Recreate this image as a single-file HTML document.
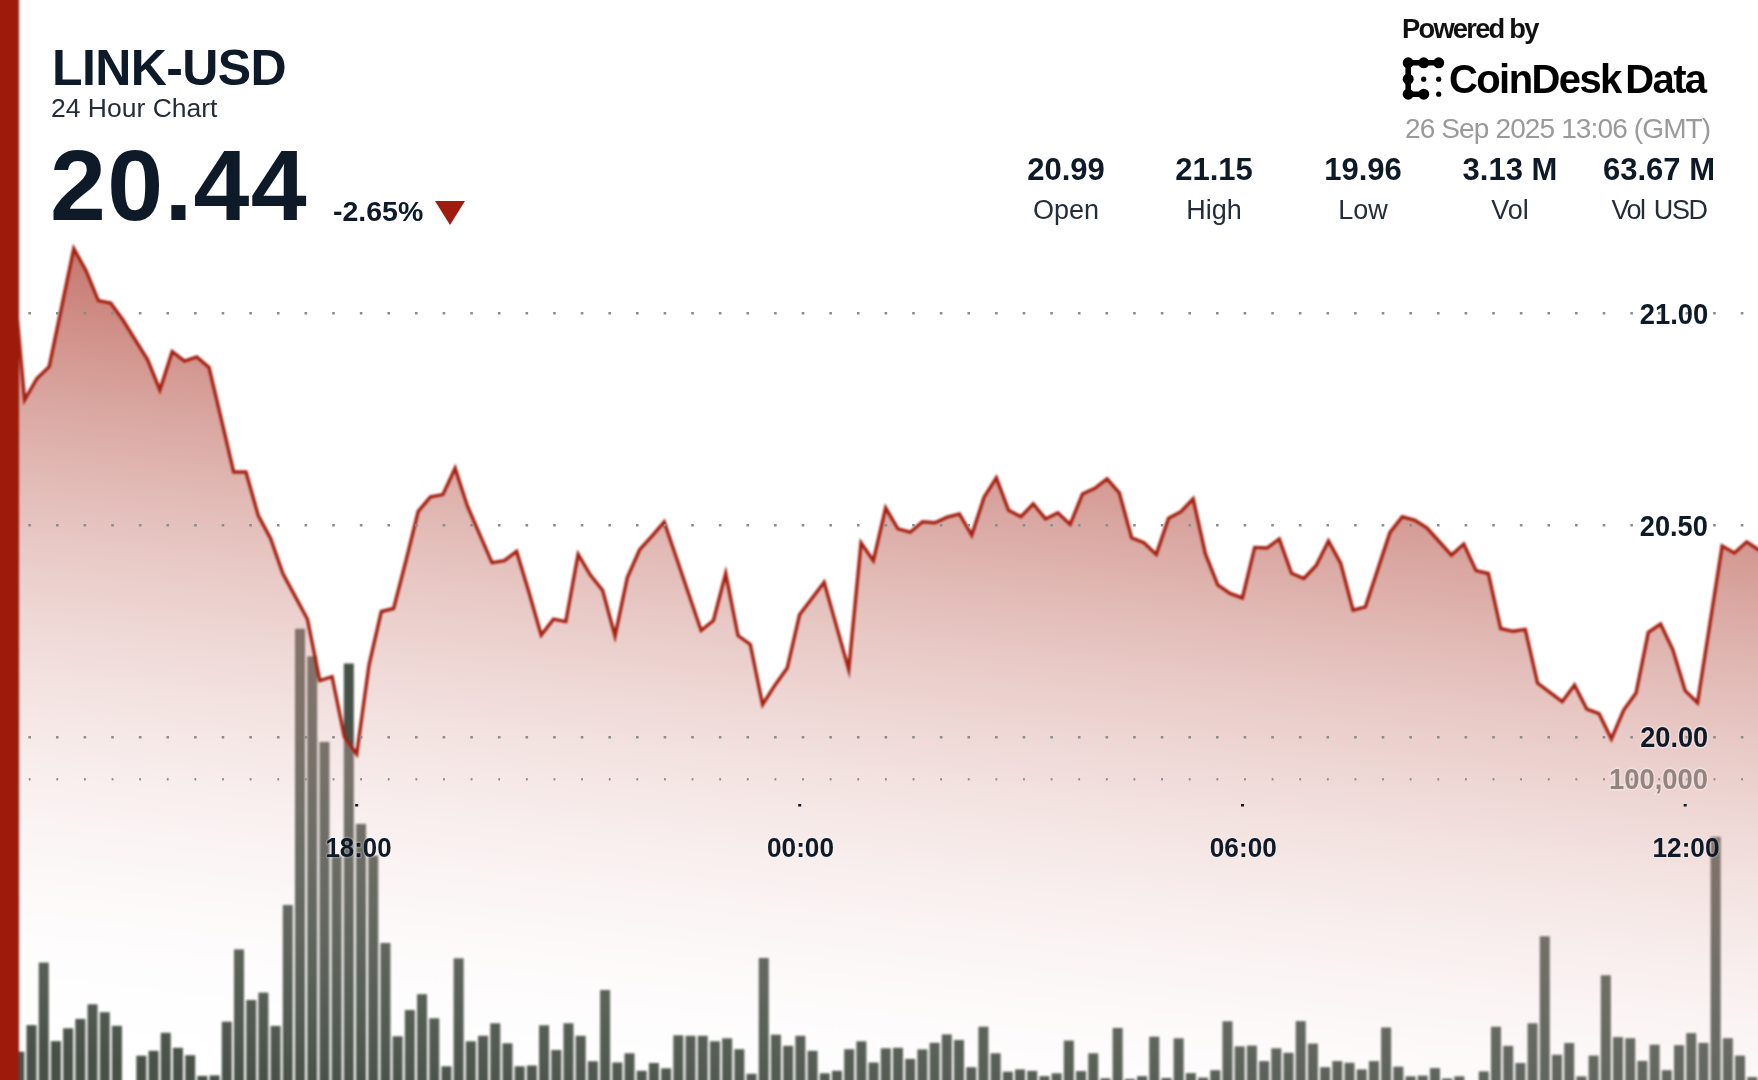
<!DOCTYPE html>
<html><head><meta charset="utf-8">
<style>
html,body{margin:0;padding:0;}
body{width:1758px;height:1080px;overflow:hidden;background:#fff;position:relative;font-family:"Liberation Sans",sans-serif;color:#0e1a28;}
.t{position:absolute;white-space:nowrap;line-height:1;}
#wrap{position:absolute;left:-16px;top:-16px;width:1790px;height:1112px;background:#fff;filter:blur(0.8px);}
#txt{position:absolute;left:0;top:0;width:1758px;height:1080px;will-change:transform;}
#lab{position:absolute;left:0;top:0;}
#inner{position:absolute;left:16px;top:16px;width:1758px;height:1080px;}
#chart{position:absolute;left:0;top:0;}
#redbar{position:absolute;left:-16px;top:-16px;width:34.5px;height:1112px;background:#9e1a0b;}
.title{left:52px;top:43px;font-size:50px;letter-spacing:-0.6px;font-weight:bold;}
.sub{left:51px;top:95px;font-size:26.5px;color:#252d38;}
.price{left:50px;top:135px;font-size:100.5px;letter-spacing:1.3px;font-weight:bold;}
.chg{left:333px;top:196.5px;font-size:28.5px;font-weight:bold;}
.pow{left:1402px;top:14.5px;font-size:27.3px;font-weight:bold;color:#111;letter-spacing:-1.75px;}
.brand{left:1449px;top:59px;font-size:40px;font-weight:bold;color:#000;letter-spacing:-1.6px;word-spacing:-5px;}
.date{left:1405px;top:114.5px;font-size:28px;color:#9a9a9a;letter-spacing:-0.87px;}
.sv{top:154px;font-size:31px;font-weight:bold;width:148px;text-align:center;}
.sl{top:196.5px;font-size:27px;color:#252d38;width:148px;text-align:center;}
</style></head><body>
<div id="wrap"><div id="inner">
<svg id="chart" width="1776" height="1096" viewBox="0 0 1776 1096" style="overflow:visible">
<defs>
<linearGradient id="g" gradientUnits="userSpaceOnUse" x1="879" y1="101" x2="758" y2="1138">
<stop offset="0" stop-color="#9e1a0b" stop-opacity="1"/>
<stop offset="1" stop-color="#ffffff" stop-opacity="0"/>
</linearGradient>
<filter id="lb" color-interpolation-filters="sRGB" x="-5%" y="-5%" width="110%" height="110%"><feGaussianBlur stdDeviation="0.45"/></filter>
</defs>
<g fill="#485148">
<rect x="14.32" y="1051.7" width="10" height="46.3"/>
<rect x="26.52" y="1025.1" width="10" height="72.9"/>
<rect x="38.73" y="962.6" width="10" height="135.4"/>
<rect x="50.93" y="1041.1" width="10" height="56.9"/>
<rect x="63.13" y="1028.3" width="10" height="69.7"/>
<rect x="75.34" y="1018.9" width="10" height="79.1"/>
<rect x="87.54" y="1004.3" width="10" height="93.7"/>
<rect x="99.75" y="1012.2" width="10" height="85.8"/>
<rect x="111.95" y="1025.8" width="10" height="72.2"/>
<rect x="136.36" y="1055.7" width="10" height="42.3"/>
<rect x="148.56" y="1050.8" width="10" height="47.2"/>
<rect x="160.76" y="1032.8" width="10" height="65.2"/>
<rect x="172.97" y="1047.8" width="10" height="50.2"/>
<rect x="185.17" y="1055.2" width="10" height="42.8"/>
<rect x="197.38" y="1075.9" width="10" height="22.1"/>
<rect x="209.58" y="1075.4" width="10" height="22.6"/>
<rect x="221.78" y="1021.7" width="10" height="76.3"/>
<rect x="233.99" y="949.4" width="10" height="148.6"/>
<rect x="246.19" y="1000" width="10" height="98"/>
<rect x="258.39" y="992.6" width="10" height="105.4"/>
<rect x="270.6" y="1025.9" width="10" height="72.1"/>
<rect x="282.8" y="905" width="10" height="193"/>
<rect x="295.01" y="628.8" width="10" height="469.2"/>
<rect x="307.21" y="656.3" width="10" height="441.7"/>
<rect x="319.41" y="741.9" width="10" height="356.1"/>
<rect x="331.62" y="855.6" width="10" height="242.4"/>
<rect x="343.82" y="663.5" width="10" height="434.5"/>
<rect x="356.02" y="823.9" width="10" height="274.1"/>
<rect x="368.23" y="855.6" width="10" height="242.4"/>
<rect x="380.43" y="943" width="10" height="155"/>
<rect x="392.63" y="1036.3" width="10" height="61.7"/>
<rect x="404.84" y="1010" width="10" height="88"/>
<rect x="417.04" y="994.2" width="10" height="103.8"/>
<rect x="429.25" y="1018.3" width="10" height="79.7"/>
<rect x="441.45" y="1066.3" width="10" height="31.7"/>
<rect x="453.65" y="958.3" width="10" height="139.7"/>
<rect x="465.86" y="1041.3" width="10" height="56.7"/>
<rect x="478.06" y="1035.8" width="10" height="62.2"/>
<rect x="490.26" y="1023.3" width="10" height="74.7"/>
<rect x="502.47" y="1043.3" width="10" height="54.7"/>
<rect x="514.67" y="1066.3" width="10" height="31.7"/>
<rect x="526.88" y="1065.5" width="10" height="32.5"/>
<rect x="539.08" y="1025.3" width="10" height="72.7"/>
<rect x="551.28" y="1050" width="10" height="48"/>
<rect x="563.49" y="1023.3" width="10" height="74.7"/>
<rect x="575.69" y="1035.8" width="10" height="62.2"/>
<rect x="587.89" y="1061.3" width="10" height="36.7"/>
<rect x="600.1" y="990" width="10" height="108"/>
<rect x="612.3" y="1062.5" width="10" height="35.5"/>
<rect x="624.5" y="1053.3" width="10" height="44.7"/>
<rect x="636.71" y="1070.8" width="10" height="27.2"/>
<rect x="648.91" y="1063" width="10" height="35"/>
<rect x="661.12" y="1068.3" width="10" height="29.7"/>
<rect x="673.32" y="1035.3" width="10" height="62.7"/>
<rect x="685.52" y="1035.8" width="10" height="62.2"/>
<rect x="697.73" y="1035.8" width="10" height="62.2"/>
<rect x="709.93" y="1041.3" width="10" height="56.7"/>
<rect x="722.13" y="1038.3" width="10" height="59.7"/>
<rect x="734.34" y="1049.2" width="10" height="48.8"/>
<rect x="746.54" y="1073.8" width="10" height="24.2"/>
<rect x="758.75" y="958" width="10" height="140"/>
<rect x="770.95" y="1034.7" width="10" height="63.3"/>
<rect x="783.15" y="1045.8" width="10" height="52.2"/>
<rect x="795.36" y="1035.8" width="10" height="62.2"/>
<rect x="807.56" y="1050.8" width="10" height="47.2"/>
<rect x="819.76" y="1073.3" width="10" height="24.7"/>
<rect x="831.97" y="1070.8" width="10" height="27.2"/>
<rect x="844.17" y="1049.2" width="10" height="48.8"/>
<rect x="856.38" y="1041.3" width="10" height="56.7"/>
<rect x="868.58" y="1062.5" width="10" height="35.5"/>
<rect x="880.78" y="1048.3" width="10" height="49.7"/>
<rect x="892.99" y="1047.8" width="10" height="50.2"/>
<rect x="905.19" y="1058.9" width="10" height="39.1"/>
<rect x="917.39" y="1049.4" width="10" height="48.6"/>
<rect x="929.6" y="1042.8" width="10" height="55.2"/>
<rect x="941.8" y="1034.4" width="10" height="63.6"/>
<rect x="954" y="1040" width="10" height="58"/>
<rect x="966.21" y="1067.2" width="10" height="30.8"/>
<rect x="978.41" y="1026.7" width="10" height="71.3"/>
<rect x="990.62" y="1053.3" width="10" height="44.7"/>
<rect x="1002.82" y="1071.7" width="10" height="26.3"/>
<rect x="1015.02" y="1069.4" width="10" height="28.6"/>
<rect x="1027.23" y="1070.9" width="10" height="27.1"/>
<rect x="1039.43" y="1076.1" width="10" height="21.9"/>
<rect x="1051.63" y="1073.3" width="10" height="24.7"/>
<rect x="1063.84" y="1040.6" width="10" height="57.4"/>
<rect x="1076.04" y="1071.1" width="10" height="26.9"/>
<rect x="1088.25" y="1053.3" width="10" height="44.7"/>
<rect x="1100.45" y="1078.3" width="10" height="19.7"/>
<rect x="1112.65" y="1028" width="10" height="70"/>
<rect x="1124.86" y="1078.9" width="10" height="19.1"/>
<rect x="1137.06" y="1076.1" width="10" height="21.9"/>
<rect x="1149.26" y="1036.7" width="10" height="61.3"/>
<rect x="1161.47" y="1078" width="10" height="20"/>
<rect x="1173.67" y="1038.3" width="10" height="59.7"/>
<rect x="1185.88" y="1073.1" width="10" height="24.9"/>
<rect x="1198.08" y="1077.6" width="10" height="20.4"/>
<rect x="1210.28" y="1070.2" width="10" height="27.8"/>
<rect x="1222.49" y="1021.3" width="10" height="76.7"/>
<rect x="1234.69" y="1046.4" width="10" height="51.6"/>
<rect x="1246.89" y="1045.6" width="10" height="52.4"/>
<rect x="1259.1" y="1061.1" width="10" height="36.9"/>
<rect x="1271.3" y="1048.3" width="10" height="49.7"/>
<rect x="1283.5" y="1052.8" width="10" height="45.2"/>
<rect x="1295.71" y="1021.1" width="10" height="76.9"/>
<rect x="1307.91" y="1043.6" width="10" height="54.4"/>
<rect x="1320.12" y="1067.2" width="10" height="30.8"/>
<rect x="1332.32" y="1061.1" width="10" height="36.9"/>
<rect x="1344.52" y="1062.8" width="10" height="35.2"/>
<rect x="1356.73" y="1069.4" width="10" height="28.6"/>
<rect x="1368.93" y="1061.1" width="10" height="36.9"/>
<rect x="1381.13" y="1027.5" width="10" height="70.5"/>
<rect x="1393.34" y="1066.7" width="10" height="31.3"/>
<rect x="1405.54" y="1076.3" width="10" height="21.7"/>
<rect x="1417.75" y="1075.6" width="10" height="22.4"/>
<rect x="1429.95" y="1068.1" width="10" height="29.9"/>
<rect x="1442.15" y="1078.5" width="10" height="19.5"/>
<rect x="1454.36" y="1076.3" width="10" height="21.7"/>
<rect x="1478.76" y="1071.4" width="10" height="26.6"/>
<rect x="1490.97" y="1026.7" width="10" height="71.3"/>
<rect x="1503.17" y="1045.9" width="10" height="52.1"/>
<rect x="1515.38" y="1063" width="10" height="35"/>
<rect x="1527.58" y="1023.3" width="10" height="74.7"/>
<rect x="1539.78" y="936.3" width="10" height="161.7"/>
<rect x="1551.99" y="1054.8" width="10" height="43.2"/>
<rect x="1564.19" y="1043" width="10" height="55"/>
<rect x="1576.39" y="1076.4" width="10" height="21.6"/>
<rect x="1588.6" y="1055.6" width="10" height="42.4"/>
<rect x="1600.8" y="975.3" width="10" height="122.7"/>
<rect x="1613" y="1037.1" width="10" height="60.9"/>
<rect x="1625.21" y="1038.2" width="10" height="59.8"/>
<rect x="1637.41" y="1060.9" width="10" height="37.1"/>
<rect x="1649.62" y="1044.7" width="10" height="53.3"/>
<rect x="1661.82" y="1070.2" width="10" height="27.8"/>
<rect x="1674.02" y="1045.2" width="10" height="52.8"/>
<rect x="1686.23" y="1033.1" width="10" height="64.9"/>
<rect x="1698.43" y="1042.9" width="10" height="55.1"/>
<rect x="1710.63" y="836.9" width="10" height="261.1"/>
<rect x="1722.84" y="1038.2" width="10" height="59.8"/>
<rect x="1735.04" y="1055.6" width="10" height="42.4"/>
<rect x="1747.25" y="1077.1" width="10" height="20.9"/>
</g>
<path d="M-0.03 124 L12.27 262 L24.57 400 L36.87 378.5 L49.17 366.7 L61.47 307.6 L73.78 248.5 L86.08 270.7 L98.38 300.6 L110.68 303 L122.98 320 L135.28 339.8 L147.58 359.6 L159.88 390 L172.18 351.5 L184.48 361.2 L196.79 357 L209.09 367.5 L221.39 419.3 L233.69 472 L245.99 472 L258.29 515.6 L270.59 538.5 L282.89 573.5 L295.19 596.4 L307.49 619.3 L319.79 680.5 L332.1 676.6 L344.4 736.9 L356.7 754 L369 665 L381.3 611.5 L393.6 608.5 L405.9 561 L418.2 511.3 L430.5 496.9 L442.81 494.6 L455.11 468.2 L467.41 506 L479.71 534.4 L492.01 562.7 L504.31 560.6 L516.61 551.4 L528.91 592 L541.21 635 L553.51 619.2 L565.81 621.6 L578.12 554.2 L590.42 575 L602.72 590.5 L615.02 635.9 L627.32 577.6 L639.62 549.7 L651.92 536.1 L664.22 521.8 L676.52 558 L688.83 594.3 L701.13 630.5 L713.43 620.5 L725.73 573.3 L738.03 635.6 L750.33 644.4 L762.63 704.5 L774.93 685.2 L787.23 668.1 L799.53 614.8 L811.84 598.5 L824.14 582.2 L836.44 625.9 L848.74 669.6 L861.04 542.8 L873.34 560.6 L885.64 507.8 L897.94 528.9 L910.24 532.2 L922.54 521.7 L934.85 522.8 L947.15 517.2 L959.45 513.9 L971.75 535 L984.05 497.2 L996.35 477.8 L1008.65 510.3 L1020.95 516.7 L1033.25 503.9 L1045.55 518.9 L1057.86 512.8 L1070.16 524.4 L1082.46 493.9 L1094.76 488.3 L1107.06 478.9 L1119.36 492.8 L1131.66 537.8 L1143.96 542.8 L1156.26 554.4 L1168.56 518.3 L1180.87 511.7 L1193.17 498.8 L1205.47 553.9 L1217.77 585 L1230.07 593.4 L1242.37 597.9 L1254.67 547.4 L1266.97 548 L1279.27 539 L1291.57 573.3 L1303.88 578.5 L1316.18 565.5 L1328.48 540.9 L1340.78 563.5 L1353.08 610.1 L1365.38 606.9 L1377.68 569.6 L1389.98 532.4 L1402.28 516.8 L1414.58 520.1 L1426.88 527.9 L1439.19 541.5 L1451.49 555.1 L1463.79 544.1 L1476.09 570.6 L1488.39 573.5 L1500.69 628.5 L1512.99 631.3 L1525.29 629.4 L1537.59 683.1 L1549.89 692.4 L1562.2 701.7 L1574.5 685 L1586.8 709.1 L1599.1 713.7 L1611.4 739 L1623.7 710 L1636 693 L1648.3 632.3 L1660.6 624.1 L1672.9 649.8 L1685.21 690.6 L1697.51 702.8 L1709.81 624.3 L1722.11 545.9 L1734.41 553 L1746.71 541.8 L1759.01 550 L1771.31 558.2 L1771.31 1098 L-0.03 1098 Z" fill="url(#g)"/>
<path d="M-0.03 124 L12.27 262 L24.57 400 L36.87 378.5 L49.17 366.7 L61.47 307.6 L73.78 248.5 L86.08 270.7 L98.38 300.6 L110.68 303 L122.98 320 L135.28 339.8 L147.58 359.6 L159.88 390 L172.18 351.5 L184.48 361.2 L196.79 357 L209.09 367.5 L221.39 419.3 L233.69 472 L245.99 472 L258.29 515.6 L270.59 538.5 L282.89 573.5 L295.19 596.4 L307.49 619.3 L319.79 680.5 L332.1 676.6 L344.4 736.9 L356.7 754 L369 665 L381.3 611.5 L393.6 608.5 L405.9 561 L418.2 511.3 L430.5 496.9 L442.81 494.6 L455.11 468.2 L467.41 506 L479.71 534.4 L492.01 562.7 L504.31 560.6 L516.61 551.4 L528.91 592 L541.21 635 L553.51 619.2 L565.81 621.6 L578.12 554.2 L590.42 575 L602.72 590.5 L615.02 635.9 L627.32 577.6 L639.62 549.7 L651.92 536.1 L664.22 521.8 L676.52 558 L688.83 594.3 L701.13 630.5 L713.43 620.5 L725.73 573.3 L738.03 635.6 L750.33 644.4 L762.63 704.5 L774.93 685.2 L787.23 668.1 L799.53 614.8 L811.84 598.5 L824.14 582.2 L836.44 625.9 L848.74 669.6 L861.04 542.8 L873.34 560.6 L885.64 507.8 L897.94 528.9 L910.24 532.2 L922.54 521.7 L934.85 522.8 L947.15 517.2 L959.45 513.9 L971.75 535 L984.05 497.2 L996.35 477.8 L1008.65 510.3 L1020.95 516.7 L1033.25 503.9 L1045.55 518.9 L1057.86 512.8 L1070.16 524.4 L1082.46 493.9 L1094.76 488.3 L1107.06 478.9 L1119.36 492.8 L1131.66 537.8 L1143.96 542.8 L1156.26 554.4 L1168.56 518.3 L1180.87 511.7 L1193.17 498.8 L1205.47 553.9 L1217.77 585 L1230.07 593.4 L1242.37 597.9 L1254.67 547.4 L1266.97 548 L1279.27 539 L1291.57 573.3 L1303.88 578.5 L1316.18 565.5 L1328.48 540.9 L1340.78 563.5 L1353.08 610.1 L1365.38 606.9 L1377.68 569.6 L1389.98 532.4 L1402.28 516.8 L1414.58 520.1 L1426.88 527.9 L1439.19 541.5 L1451.49 555.1 L1463.79 544.1 L1476.09 570.6 L1488.39 573.5 L1500.69 628.5 L1512.99 631.3 L1525.29 629.4 L1537.59 683.1 L1549.89 692.4 L1562.2 701.7 L1574.5 685 L1586.8 709.1 L1599.1 713.7 L1611.4 739 L1623.7 710 L1636 693 L1648.3 632.3 L1660.6 624.1 L1672.9 649.8 L1685.21 690.6 L1697.51 702.8 L1709.81 624.3 L1722.11 545.9 L1734.41 553 L1746.71 541.8 L1759.01 550 L1771.31 558.2" filter="url(#lb)" fill="none" stroke="#a51f10" stroke-width="3.4" stroke-linejoin="miter" stroke-miterlimit="10"/>
</svg>
<div id="redbar"></div>
</div></div>
<div id="txt">
<svg id="lab" width="1758" height="1080" viewBox="0 0 1758 1080">
<path d="M28.35 312h2.6v2.6h-2.6zM55.97 312h2.6v2.6h-2.6zM83.59 312h2.6v2.6h-2.6zM111.21 312h2.6v2.6h-2.6zM138.83 312h2.6v2.6h-2.6zM166.45 312h2.6v2.6h-2.6zM194.07 312h2.6v2.6h-2.6zM221.69 312h2.6v2.6h-2.6zM249.31 312h2.6v2.6h-2.6zM276.93 312h2.6v2.6h-2.6zM304.55 312h2.6v2.6h-2.6zM332.17 312h2.6v2.6h-2.6zM359.79 312h2.6v2.6h-2.6zM387.41 312h2.6v2.6h-2.6zM415.03 312h2.6v2.6h-2.6zM442.65 312h2.6v2.6h-2.6zM470.27 312h2.6v2.6h-2.6zM497.89 312h2.6v2.6h-2.6zM525.51 312h2.6v2.6h-2.6zM553.13 312h2.6v2.6h-2.6zM580.75 312h2.6v2.6h-2.6zM608.37 312h2.6v2.6h-2.6zM635.99 312h2.6v2.6h-2.6zM663.61 312h2.6v2.6h-2.6zM691.23 312h2.6v2.6h-2.6zM718.85 312h2.6v2.6h-2.6zM746.47 312h2.6v2.6h-2.6zM774.09 312h2.6v2.6h-2.6zM801.71 312h2.6v2.6h-2.6zM829.33 312h2.6v2.6h-2.6zM856.95 312h2.6v2.6h-2.6zM884.57 312h2.6v2.6h-2.6zM912.19 312h2.6v2.6h-2.6zM939.81 312h2.6v2.6h-2.6zM967.43 312h2.6v2.6h-2.6zM995.05 312h2.6v2.6h-2.6zM1022.67 312h2.6v2.6h-2.6zM1050.29 312h2.6v2.6h-2.6zM1077.91 312h2.6v2.6h-2.6zM1105.53 312h2.6v2.6h-2.6zM1133.15 312h2.6v2.6h-2.6zM1160.77 312h2.6v2.6h-2.6zM1188.39 312h2.6v2.6h-2.6zM1216.01 312h2.6v2.6h-2.6zM1243.63 312h2.6v2.6h-2.6zM1271.25 312h2.6v2.6h-2.6zM1298.87 312h2.6v2.6h-2.6zM1326.49 312h2.6v2.6h-2.6zM1354.11 312h2.6v2.6h-2.6zM1381.73 312h2.6v2.6h-2.6zM1409.35 312h2.6v2.6h-2.6zM1436.97 312h2.6v2.6h-2.6zM1464.59 312h2.6v2.6h-2.6zM1492.21 312h2.6v2.6h-2.6zM1519.83 312h2.6v2.6h-2.6zM1547.45 312h2.6v2.6h-2.6zM1575.07 312h2.6v2.6h-2.6zM1602.69 312h2.6v2.6h-2.6zM1630.31 312h2.6v2.6h-2.6zM1657.93 312h2.6v2.6h-2.6zM1685.55 312h2.6v2.6h-2.6zM1713.17 312h2.6v2.6h-2.6zM1740.79 312h2.6v2.6h-2.6zM28.35 523.9h2.6v2.6h-2.6zM55.97 523.9h2.6v2.6h-2.6zM83.59 523.9h2.6v2.6h-2.6zM111.21 523.9h2.6v2.6h-2.6zM138.83 523.9h2.6v2.6h-2.6zM166.45 523.9h2.6v2.6h-2.6zM194.07 523.9h2.6v2.6h-2.6zM221.69 523.9h2.6v2.6h-2.6zM249.31 523.9h2.6v2.6h-2.6zM276.93 523.9h2.6v2.6h-2.6zM304.55 523.9h2.6v2.6h-2.6zM332.17 523.9h2.6v2.6h-2.6zM359.79 523.9h2.6v2.6h-2.6zM387.41 523.9h2.6v2.6h-2.6zM415.03 523.9h2.6v2.6h-2.6zM442.65 523.9h2.6v2.6h-2.6zM470.27 523.9h2.6v2.6h-2.6zM497.89 523.9h2.6v2.6h-2.6zM525.51 523.9h2.6v2.6h-2.6zM553.13 523.9h2.6v2.6h-2.6zM580.75 523.9h2.6v2.6h-2.6zM608.37 523.9h2.6v2.6h-2.6zM635.99 523.9h2.6v2.6h-2.6zM663.61 523.9h2.6v2.6h-2.6zM691.23 523.9h2.6v2.6h-2.6zM718.85 523.9h2.6v2.6h-2.6zM746.47 523.9h2.6v2.6h-2.6zM774.09 523.9h2.6v2.6h-2.6zM801.71 523.9h2.6v2.6h-2.6zM829.33 523.9h2.6v2.6h-2.6zM856.95 523.9h2.6v2.6h-2.6zM884.57 523.9h2.6v2.6h-2.6zM912.19 523.9h2.6v2.6h-2.6zM939.81 523.9h2.6v2.6h-2.6zM967.43 523.9h2.6v2.6h-2.6zM995.05 523.9h2.6v2.6h-2.6zM1022.67 523.9h2.6v2.6h-2.6zM1050.29 523.9h2.6v2.6h-2.6zM1077.91 523.9h2.6v2.6h-2.6zM1105.53 523.9h2.6v2.6h-2.6zM1133.15 523.9h2.6v2.6h-2.6zM1160.77 523.9h2.6v2.6h-2.6zM1188.39 523.9h2.6v2.6h-2.6zM1216.01 523.9h2.6v2.6h-2.6zM1243.63 523.9h2.6v2.6h-2.6zM1271.25 523.9h2.6v2.6h-2.6zM1298.87 523.9h2.6v2.6h-2.6zM1326.49 523.9h2.6v2.6h-2.6zM1354.11 523.9h2.6v2.6h-2.6zM1381.73 523.9h2.6v2.6h-2.6zM1409.35 523.9h2.6v2.6h-2.6zM1436.97 523.9h2.6v2.6h-2.6zM1464.59 523.9h2.6v2.6h-2.6zM1492.21 523.9h2.6v2.6h-2.6zM1519.83 523.9h2.6v2.6h-2.6zM1547.45 523.9h2.6v2.6h-2.6zM1575.07 523.9h2.6v2.6h-2.6zM1602.69 523.9h2.6v2.6h-2.6zM1630.31 523.9h2.6v2.6h-2.6zM1657.93 523.9h2.6v2.6h-2.6zM1685.55 523.9h2.6v2.6h-2.6zM1713.17 523.9h2.6v2.6h-2.6zM1740.79 523.9h2.6v2.6h-2.6zM28.35 735.9h2.6v2.6h-2.6zM55.97 735.9h2.6v2.6h-2.6zM83.59 735.9h2.6v2.6h-2.6zM111.21 735.9h2.6v2.6h-2.6zM138.83 735.9h2.6v2.6h-2.6zM166.45 735.9h2.6v2.6h-2.6zM194.07 735.9h2.6v2.6h-2.6zM221.69 735.9h2.6v2.6h-2.6zM249.31 735.9h2.6v2.6h-2.6zM276.93 735.9h2.6v2.6h-2.6zM304.55 735.9h2.6v2.6h-2.6zM332.17 735.9h2.6v2.6h-2.6zM359.79 735.9h2.6v2.6h-2.6zM387.41 735.9h2.6v2.6h-2.6zM415.03 735.9h2.6v2.6h-2.6zM442.65 735.9h2.6v2.6h-2.6zM470.27 735.9h2.6v2.6h-2.6zM497.89 735.9h2.6v2.6h-2.6zM525.51 735.9h2.6v2.6h-2.6zM553.13 735.9h2.6v2.6h-2.6zM580.75 735.9h2.6v2.6h-2.6zM608.37 735.9h2.6v2.6h-2.6zM635.99 735.9h2.6v2.6h-2.6zM663.61 735.9h2.6v2.6h-2.6zM691.23 735.9h2.6v2.6h-2.6zM718.85 735.9h2.6v2.6h-2.6zM746.47 735.9h2.6v2.6h-2.6zM774.09 735.9h2.6v2.6h-2.6zM801.71 735.9h2.6v2.6h-2.6zM829.33 735.9h2.6v2.6h-2.6zM856.95 735.9h2.6v2.6h-2.6zM884.57 735.9h2.6v2.6h-2.6zM912.19 735.9h2.6v2.6h-2.6zM939.81 735.9h2.6v2.6h-2.6zM967.43 735.9h2.6v2.6h-2.6zM995.05 735.9h2.6v2.6h-2.6zM1022.67 735.9h2.6v2.6h-2.6zM1050.29 735.9h2.6v2.6h-2.6zM1077.91 735.9h2.6v2.6h-2.6zM1105.53 735.9h2.6v2.6h-2.6zM1133.15 735.9h2.6v2.6h-2.6zM1160.77 735.9h2.6v2.6h-2.6zM1188.39 735.9h2.6v2.6h-2.6zM1216.01 735.9h2.6v2.6h-2.6zM1243.63 735.9h2.6v2.6h-2.6zM1271.25 735.9h2.6v2.6h-2.6zM1298.87 735.9h2.6v2.6h-2.6zM1326.49 735.9h2.6v2.6h-2.6zM1354.11 735.9h2.6v2.6h-2.6zM1381.73 735.9h2.6v2.6h-2.6zM1409.35 735.9h2.6v2.6h-2.6zM1436.97 735.9h2.6v2.6h-2.6zM1464.59 735.9h2.6v2.6h-2.6zM1492.21 735.9h2.6v2.6h-2.6zM1519.83 735.9h2.6v2.6h-2.6zM1547.45 735.9h2.6v2.6h-2.6zM1575.07 735.9h2.6v2.6h-2.6zM1602.69 735.9h2.6v2.6h-2.6zM1630.31 735.9h2.6v2.6h-2.6zM1657.93 735.9h2.6v2.6h-2.6zM1685.55 735.9h2.6v2.6h-2.6zM1713.17 735.9h2.6v2.6h-2.6zM1740.79 735.9h2.6v2.6h-2.6z" fill="#8c8c8c"/>
<path d="M28.75 778h1.8v2.6h-1.8zM56.37 778h1.8v2.6h-1.8zM83.99 778h1.8v2.6h-1.8zM111.61 778h1.8v2.6h-1.8zM139.23 778h1.8v2.6h-1.8zM166.85 778h1.8v2.6h-1.8zM194.47 778h1.8v2.6h-1.8zM222.09 778h1.8v2.6h-1.8zM249.71 778h1.8v2.6h-1.8zM277.33 778h1.8v2.6h-1.8zM304.95 778h1.8v2.6h-1.8zM332.57 778h1.8v2.6h-1.8zM360.19 778h1.8v2.6h-1.8zM387.81 778h1.8v2.6h-1.8zM415.43 778h1.8v2.6h-1.8zM443.05 778h1.8v2.6h-1.8zM470.67 778h1.8v2.6h-1.8zM498.29 778h1.8v2.6h-1.8zM525.91 778h1.8v2.6h-1.8zM553.53 778h1.8v2.6h-1.8zM581.15 778h1.8v2.6h-1.8zM608.77 778h1.8v2.6h-1.8zM636.39 778h1.8v2.6h-1.8zM664.01 778h1.8v2.6h-1.8zM691.63 778h1.8v2.6h-1.8zM719.25 778h1.8v2.6h-1.8zM746.87 778h1.8v2.6h-1.8zM774.49 778h1.8v2.6h-1.8zM802.11 778h1.8v2.6h-1.8zM829.73 778h1.8v2.6h-1.8zM857.35 778h1.8v2.6h-1.8zM884.97 778h1.8v2.6h-1.8zM912.59 778h1.8v2.6h-1.8zM940.21 778h1.8v2.6h-1.8zM967.83 778h1.8v2.6h-1.8zM995.45 778h1.8v2.6h-1.8zM1023.07 778h1.8v2.6h-1.8zM1050.69 778h1.8v2.6h-1.8zM1078.31 778h1.8v2.6h-1.8zM1105.93 778h1.8v2.6h-1.8zM1133.55 778h1.8v2.6h-1.8zM1161.17 778h1.8v2.6h-1.8zM1188.79 778h1.8v2.6h-1.8zM1216.41 778h1.8v2.6h-1.8zM1244.03 778h1.8v2.6h-1.8zM1271.65 778h1.8v2.6h-1.8zM1299.27 778h1.8v2.6h-1.8zM1326.89 778h1.8v2.6h-1.8zM1354.51 778h1.8v2.6h-1.8zM1382.13 778h1.8v2.6h-1.8zM1409.75 778h1.8v2.6h-1.8zM1437.37 778h1.8v2.6h-1.8zM1464.99 778h1.8v2.6h-1.8zM1492.61 778h1.8v2.6h-1.8zM1520.23 778h1.8v2.6h-1.8zM1547.85 778h1.8v2.6h-1.8zM1575.47 778h1.8v2.6h-1.8zM1603.09 778h1.8v2.6h-1.8zM1630.71 778h1.8v2.6h-1.8zM1658.33 778h1.8v2.6h-1.8zM1685.95 778h1.8v2.6h-1.8zM1713.57 778h1.8v2.6h-1.8zM1741.19 778h1.8v2.6h-1.8z" fill="#9a8e8e"/>
<path d="M355.2 804h3v2.6h-3zM798.2 804h3v2.6h-3zM1241 804h3v2.6h-3zM1683.7 804h3v2.6h-3z" fill="#0e1a28"/>
<g font-family="Liberation Sans" font-weight="bold" font-size="29.5" fill="#0e1a28" text-anchor="end">
<text x="1708.2" y="323.6" textLength="68.5" lengthAdjust="spacingAndGlyphs">21.00</text>
<text x="1707.8" y="535.7" textLength="68" lengthAdjust="spacingAndGlyphs">20.50</text>
<text x="1708.2" y="746.5" textLength="68" lengthAdjust="spacingAndGlyphs" stroke="#fff" stroke-opacity="0.35" stroke-width="3" paint-order="stroke">20.00</text>
<text x="1708" y="789.2" textLength="99" lengthAdjust="spacingAndGlyphs" fill="#948480" stroke="#fff" stroke-opacity="0.3" stroke-width="3" paint-order="stroke">100,000</text>
</g>
<g font-family="Liberation Sans" font-weight="bold" font-size="28" fill="#0e1a28" text-anchor="middle" stroke="#fff" stroke-width="3" stroke-opacity="0.18" paint-order="stroke" stroke-linejoin="round">
<text x="358.5" y="856.5" textLength="66" lengthAdjust="spacingAndGlyphs">18:00</text>
<text x="800.5" y="857" textLength="67" lengthAdjust="spacingAndGlyphs">00:00</text>
<text x="1243.3" y="857" textLength="67" lengthAdjust="spacingAndGlyphs">06:00</text>
<text x="1686" y="857" textLength="67" lengthAdjust="spacingAndGlyphs">12:00</text>
</g>
</svg>
<div class="t title">LINK-USD</div>
<div class="t sub">24 Hour Chart</div>
<div class="t price">20.44</div>
<div class="t chg">-2.65%</div>
<svg style="position:absolute;left:435px;top:201px" width="30" height="24" viewBox="0 0 30 24"><path d="M0 0H30L15 24Z" fill="#a01c0e"/></svg>
<div class="t pow">Powered by</div>
<svg style="position:absolute;left:1400px;top:55px" width="48" height="48" viewBox="0 0 48 48">
<g fill="#000" stroke="#000">
<path d="M8.2 7.8H38.7M8.2 7.8V39.2M8.2 39.2H23.7" stroke-width="5.6" fill="none"/>
<circle cx="8.2" cy="7.8" r="5.5" stroke="none"/><circle cx="23.7" cy="7.8" r="5.5" stroke="none"/><circle cx="38.7" cy="7.8" r="5.5" stroke="none"/>
<circle cx="8.2" cy="24.2" r="5.5" stroke="none"/><circle cx="8.2" cy="39.2" r="5.5" stroke="none"/><circle cx="23.7" cy="39.2" r="5.5" stroke="none"/>
<circle cx="23.7" cy="24.2" r="2.6" stroke="none"/><circle cx="38.7" cy="24.2" r="2.6" stroke="none"/><circle cx="38.7" cy="39.2" r="2.6" stroke="none"/>
</g></svg>
<div class="t brand">CoinDesk Data</div>
<div class="t date">26 Sep 2025 13:06 (GMT)</div>
<div class="t sv" style="left:992px">20.99</div>
<div class="t sv" style="left:1140px">21.15</div>
<div class="t sv" style="left:1289px">19.96</div>
<div class="t sv" style="left:1436px">3.13 M</div>
<div class="t sv" style="left:1585px">63.67 M</div>
<div class="t sl" style="left:992px">Open</div>
<div class="t sl" style="left:1140px">High</div>
<div class="t sl" style="left:1289px">Low</div>
<div class="t sl" style="left:1436px">Vol</div>
<div class="t sl" style="left:1585px;letter-spacing:-1.4px;word-spacing:3px">Vol USD</div>
</div>
</body></html>
